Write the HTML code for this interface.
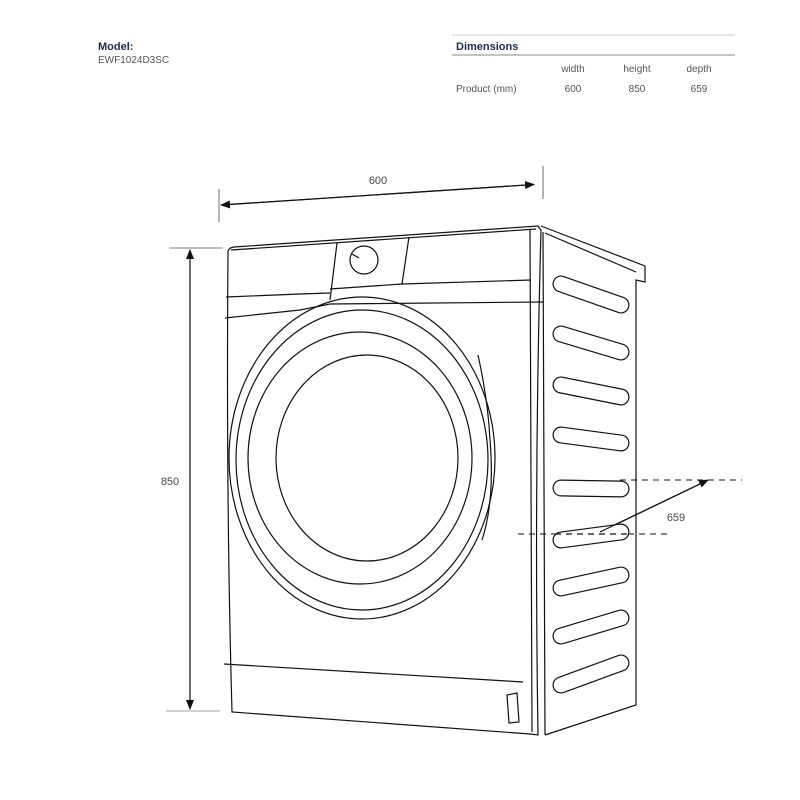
<!DOCTYPE html>
<html><head><style>
body{margin:0;background:#fff;}
svg{display:block;font-family:"Liberation Sans",sans-serif;}
</style></head><body>
<svg width="800" height="800" viewBox="0 0 800 800" xmlns="http://www.w3.org/2000/svg">
<defs>
<marker id="ar" markerWidth="10" markerHeight="8" refX="9" refY="4" orient="auto" markerUnits="userSpaceOnUse"><path d="M0,0 L10,4 L0,8 z" fill="#111"/></marker>
</defs>
<!-- header -->
<text x="98" y="50" font-size="11" font-weight="bold" fill="#1f2a5a">Model:</text>
<text x="98" y="63" font-size="10" fill="#555">EWF1024D3SC</text>
<line x1="452" y1="35" x2="735" y2="35" stroke="#ccc" stroke-width="1"/>
<text x="456" y="50" font-size="11" font-weight="bold" fill="#1f2a5a">Dimensions</text>
<line x1="452" y1="55" x2="735" y2="55" stroke="#888" stroke-width="1"/>
<g font-size="10" fill="#555" text-anchor="middle">
<text x="573" y="72">width</text><text x="637" y="72">height</text><text x="699" y="72">depth</text>
<text x="573" y="92">600</text><text x="637" y="92">850</text><text x="699" y="92">659</text>
</g>
<text x="456" y="92" font-size="10" fill="#555">Product (mm)</text>

<g stroke="#111" fill="none" stroke-width="1.2">
<!-- 600 dim -->
<line x1="219" y1="189" x2="219" y2="222" stroke="#444" stroke-width="0.8"/>
<line x1="543" y1="166" x2="543" y2="199" stroke="#444" stroke-width="0.8"/>
<line x1="228" y1="204.5" x2="534" y2="184.5" marker-end="url(#ar)"/>
<line x1="534" y1="184.5" x2="221" y2="205" marker-end="url(#ar)"/>
<!-- 850 dim -->
<line x1="170" y1="248" x2="222" y2="248" stroke="#444" stroke-width="0.8"/>
<line x1="166" y1="711" x2="220" y2="711" stroke="#888" stroke-width="0.8"/>
<line x1="190" y1="258" x2="190" y2="250" marker-end="url(#ar)"/>
<line x1="190" y1="255" x2="190" y2="709" marker-end="url(#ar)"/>
<!-- 659 dim -->
<line x1="620" y1="480" x2="742" y2="480" stroke-dasharray="6,5" stroke-width="1"/>
<line x1="518" y1="534" x2="668" y2="534" stroke-dasharray="6,5" stroke-width="1"/>
<line x1="600" y1="532" x2="708" y2="480" marker-end="url(#ar)"/>
<line x1="700" y1="484" x2="596" y2="534" marker-end="url(#ar)"/>

<!-- front face -->
<path d="M228,252 Q228,248 234,247 L538,226 L541,230 Q534,480 538,735 L530,734 L232,712 Q226,500 228,252 Z"/>
<line x1="231" y1="250" x2="536" y2="229"/>
<path d="M226,297 L300,294 L330,293"/>
<path d="M330,289 L402,284 L531,280"/>
<path d="M225,318 L300,310 L330,304 L543,302"/>
<line x1="337" y1="243" x2="330" y2="300"/>
<line x1="409" y1="237" x2="402" y2="284"/>
<circle cx="364" cy="260" r="14"/>
<line x1="352" y1="254" x2="359" y2="258"/>
<line x1="530" y1="230" x2="532" y2="732"/>
<!-- door -->
<ellipse cx="362" cy="458" rx="133" ry="161"/>
<ellipse cx="362" cy="460" rx="126" ry="150"/>
<ellipse cx="360" cy="458" rx="112" ry="126"/>
<ellipse cx="367" cy="458" rx="91" ry="103"/>
<path d="M478,355 Q488,400 490,440 Q495,500 482,540"/>
<!-- bottom -->
<path d="M224,664 L523,682"/>
<path d="M507,695 L517,693 L519,722 L509,723 Z"/>
<!-- side panel -->
<path d="M541,226 L645,266 L645,282 L636,280 L636,705 L545,735"/>
<line x1="545" y1="233" x2="636" y2="272"/>
<line x1="543" y1="232" x2="545" y2="735"/>
</g>
<!-- vents -->
<g stroke-linecap="round" fill="none">
<g stroke="#111" stroke-width="17">
<line x1="561" y1="284" x2="621" y2="305"/>
<line x1="561" y1="334" x2="621" y2="352"/>
<line x1="561" y1="385" x2="621" y2="397"/>
<line x1="561" y1="435" x2="621" y2="443"/>
<line x1="561" y1="488" x2="621" y2="489"/>
<line x1="561" y1="540" x2="621" y2="532"/>
<line x1="561" y1="588" x2="621" y2="575"/>
<line x1="561" y1="636" x2="621" y2="618"/>
<line x1="561" y1="685" x2="621" y2="663"/>
</g>
<g stroke="#fff" stroke-width="14.6">
<line x1="561" y1="284" x2="621" y2="305"/>
<line x1="561" y1="334" x2="621" y2="352"/>
<line x1="561" y1="385" x2="621" y2="397"/>
<line x1="561" y1="435" x2="621" y2="443"/>
<line x1="561" y1="488" x2="621" y2="489"/>
<line x1="561" y1="540" x2="621" y2="532"/>
<line x1="561" y1="588" x2="621" y2="575"/>
<line x1="561" y1="636" x2="621" y2="618"/>
<line x1="561" y1="685" x2="621" y2="663"/>
</g>
</g>
<line x1="555" y1="534" x2="628" y2="534" stroke="#111" stroke-width="1.2" stroke-dasharray="6,5"/>
<line x1="600" y1="532" x2="625" y2="520" stroke="#111" stroke-width="1.2"/>
<g font-size="11" fill="#444" text-anchor="middle">
<text x="378" y="184">600</text>
<text x="170" y="485">850</text>
<text x="676" y="521">659</text>
</g>
</svg>
</body></html>
